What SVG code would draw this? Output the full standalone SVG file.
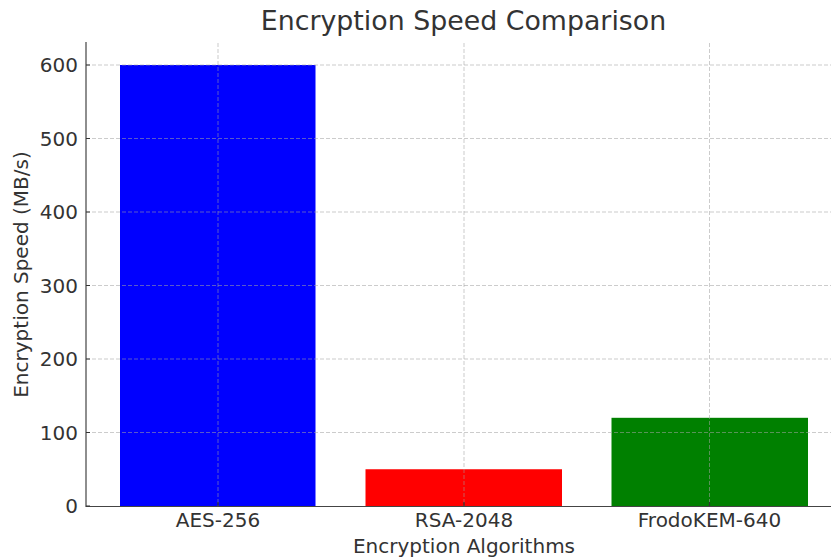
<svg xmlns="http://www.w3.org/2000/svg" width="831" height="560" viewBox="0 0 831 560">
<style>
text{font-family:"DejaVu Sans","Liberation Sans",sans-serif;fill:#333333}
.tick{font-size:20px}
.grid{stroke:#a3a3a3;stroke-opacity:0.55;stroke-width:1;stroke-dasharray:4,2;fill:none}
.spine{stroke:#444444;stroke-width:1.2;fill:none}
.tk{stroke:#333333;stroke-width:1.2}
</style>
<rect width="831" height="560" fill="#ffffff"/>
<g id="bars">
<rect id="bar-aes" x="120" y="65" width="195.5" height="441" fill="#0000ff"/>
<rect id="bar-rsa" x="365.5" y="469.25" width="196.5" height="36.75" fill="#ff0000"/>
<rect id="bar-frodo" x="611.5" y="417.8" width="196.5" height="88.2" fill="#008000"/>
</g>
<g id="grid">
<path class="grid" d="M218 43V506M464 43V506M709.5 43V506"/>
<path class="grid" d="M86 65H831M86 138.5H831M86 212H831M86 285.5H831M86 359H831M86 432.5H831"/>
</g>
<g id="axes">
<path class="spine" d="M86 42V506.5H831"/>
<path class="tk" d="M86 65h4M86 138.5h4M86 212h4M86 285.5h4M86 359h4M86 432.5h4M86 506h4"/>
<path class="tk" d="M218 506v-4M464 506v-4M709.5 506v-4"/>
</g>
<g id="yticks" class="tick" text-anchor="end">
<text x="78" y="72">600</text>
<text x="78" y="145.5">500</text>
<text x="78" y="219">400</text>
<text x="78" y="292.5">300</text>
<text x="78" y="366">200</text>
<text x="78" y="439.5">100</text>
<text x="78" y="513">0</text>
</g>
<g id="xticks" class="tick" text-anchor="middle">
<text x="218" y="527">AES-256</text>
<text x="464" y="527">RSA-2048</text>
<text x="709.5" y="527">FrodoKEM-640</text>
</g>
<text id="xlabel" class="tick" x="464" y="553" text-anchor="middle">Encryption Algorithms</text>
<text id="ylabel" class="tick" transform="translate(28 274.5) rotate(-90)" text-anchor="middle">Encryption Speed (MB/s)</text>
<text id="title" x="463.5" y="30" text-anchor="middle" style="font-size:26.8px">Encryption Speed Comparison</text>
</svg>
